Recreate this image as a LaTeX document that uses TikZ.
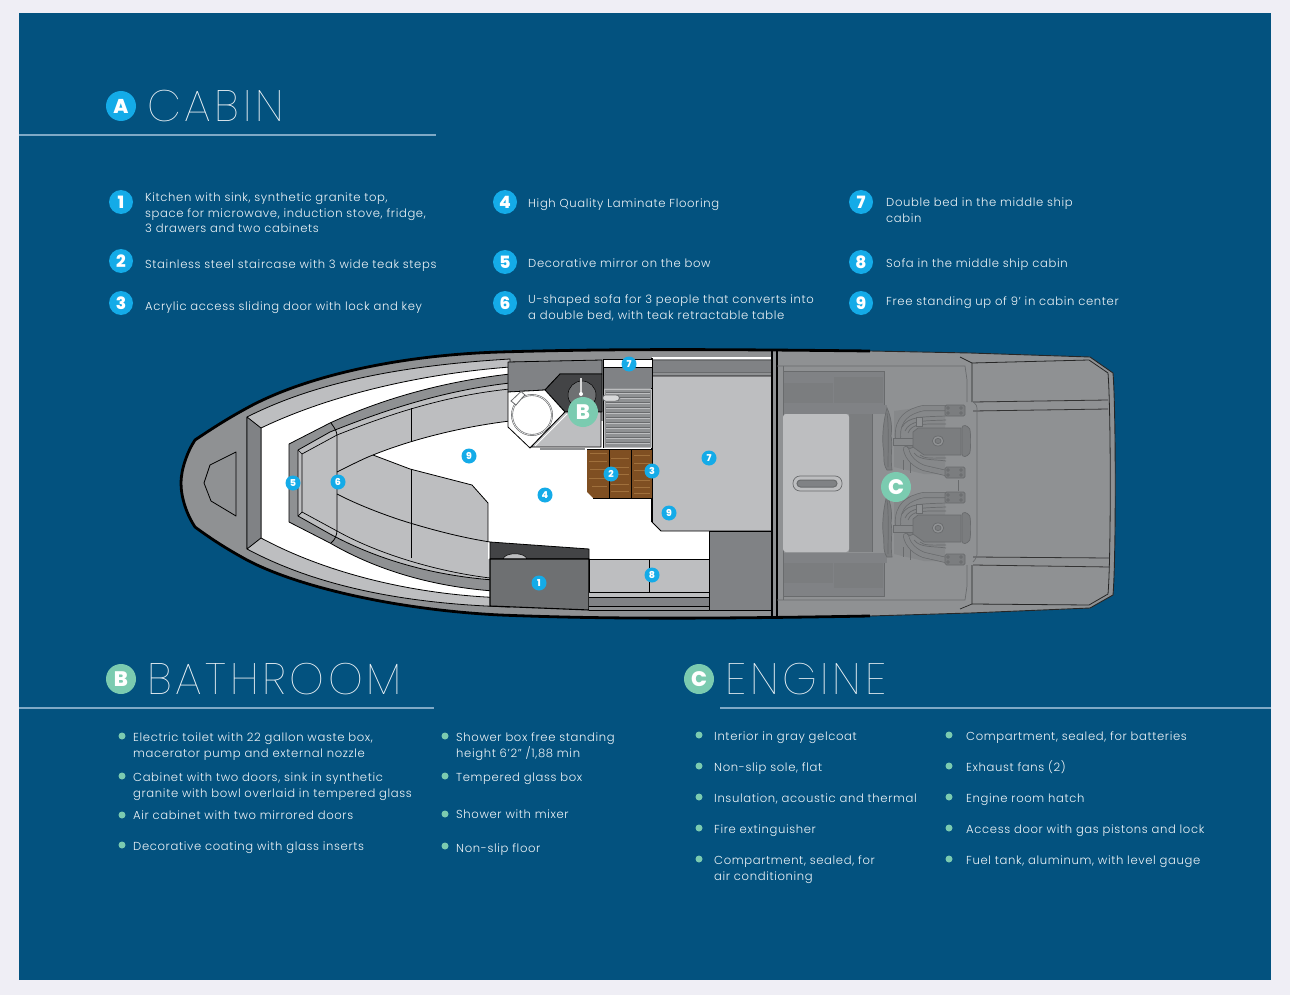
\documentclass[tikz,border=0pt]{standalone}
\usepackage{fontspec}
\setmainfont{Poppins Light}[LetterSpace=5.5]
\newfontfamily\thinf{Poppins Thin}[LetterSpace=8.5]
\newfontfamily\boldf{Poppins}[UprightFont=* ExtraBold]
\definecolor{navy}{HTML}{03527F}
\definecolor{pagebg}{HTML}{EFEEF5}
\definecolor{ruleblue}{HTML}{7FA9C6}
\definecolor{txtc}{HTML}{F0F5F8}
\definecolor{cyanb}{HTML}{14ABE8}
\definecolor{greenb}{HTML}{7BCBB0}
\definecolor{hullg}{HTML}{8F9193}
\definecolor{lightg}{HTML}{BDBEC0}
\definecolor{midg}{HTML}{808285}
\definecolor{darkg}{HTML}{6E7072}
\definecolor{charc}{HTML}{434446}
\definecolor{wood}{HTML}{7F4F22}
\definecolor{woodl}{HTML}{A0703C}
\definecolor{engline}{HTML}{696B6D}
\definecolor{engfill}{HTML}{7B7D7F}
\tikzset{
  hl/.style={draw=black,line width=0.8pt,line join=round},
  thinl/.style={draw=engline,line width=0.7pt},
  pipe/.style={draw=engline,line width=6pt,line cap=round},
  pipei/.style={draw=hullg!50!engfill,line width=4.6pt,line cap=round},
  ttl/.style={anchor=base west,inner sep=0pt,text=txtc,font=\thinf\fontsize{44}{44}\selectfont},
  txt/.style={anchor=north west,inner sep=0pt,yshift=-1.7pt,text=txtc,align=left,font=\fontsize{11.6}{15.4}\selectfont},
  numb/.style={circle,fill=cyanb,text=white,inner sep=0pt,minimum size=24pt,font=\boldf\fontsize{17}{17}\selectfont},
  numbs/.style={circle,fill=cyanb,text=white,inner sep=0pt,minimum size=15pt,font=\boldf\fontsize{9.5}{9.5}\selectfont},
  letb/.style={circle,fill=greenb,text=white,inner sep=0pt,minimum size=30pt,font=\boldf\fontsize{21}{21}\selectfont},
  dotb/.style={circle,fill=greenb,inner sep=0pt,minimum size=7pt},
  hrule/.style={draw=ruleblue,line width=1.3pt}
}
\newcommand{\engineblock}[1]{%
\begin{scope}[shift={#1}]
 % base
 \fill[hullg!55!engfill] (-44,-30) -- (-14,-34) -- (7,-34) -- (7,33) -- (-14,33) -- (-44,26) -- cycle;
 % flywheel
 \draw[thinl,fill=engfill] (-51,-33) .. controls (-46,-22) and (-46,-12) .. (-47,-5) .. controls (-45,5) and (-48,15) .. (-46,29) -- (-51,29) .. controls (-56,22) and (-53,14) .. (-55,5) .. controls (-56,-8) and (-54,-22) .. (-51,-33) -- cycle;
 \draw[thinl] (-51,-28) .. controls (-49,-15) and (-50,10) .. (-50,26);
 % pipes
 \draw[thinl] (-36,-14) .. controls (-30,-25) and (-15,-24) .. (8,-25);
 \draw[thinl] (-33,-10) .. controls (-28,-21) and (-15,-20) .. (8,-21);
 \draw[thinl] (-30,-8) .. controls (-26,-18) and (-15,-17) .. (8,-17);
 \draw[thinl] (-24,12) .. controls (-18,20) and (-5,18) .. (8,20);
 \draw[thinl] (-18,14) .. controls (-14,18) and (-5,17) .. (8,17);
 \draw[thinl] (-28,19) -- (-28,32);
 \draw[thinl] (-35,19) -- (-35,29);
 \draw[pipe] (-40,-4) .. controls (-41,-22) and (-30,-30) .. (-14,-33) -- (8,-33);
 \draw[pipei] (-40,-4) .. controls (-41,-22) and (-30,-30) .. (-14,-33) -- (8,-33);
 \draw[pipe] (-32,8) .. controls (-30,18) and (-22,24) .. (-14,27) -- (8,32);
 \draw[pipei] (-32,8) .. controls (-30,18) and (-22,24) .. (-14,27) -- (8,32);
 \draw[thinl,fill=engfill] (-28,4) circle (3.5);
 % shaft
 \draw[thinl,fill=hullg!60!engfill] (-45,-3) rectangle (-25,4);
 % block
 \draw[thinl,fill=engfill] (-25,-9) -- (-20,-13) -- (23,-13) -- (23,14) -- (-14,14) -- (-25,6) -- cycle;
 \draw[thinl,fill=engfill,rounded corners=3pt] (24,-16) -- (30,-15) .. controls (33,-10) and (33,10) .. (30,15) -- (24,16) -- cycle;
 \draw[thinl,fill=hullg] (0,0) ellipse (5.8 and 5);
 \draw[thinl,fill=engfill] (0,0) ellipse (3 and 2.6);
 \draw[thinl,fill=hullg] (-22,-24) rectangle (-16,-15);
 % mounts
 \draw[thinl,fill=engfill,rounded corners=1.5pt] (7,-36) rectangle (27,-25);
 \draw[thinl,fill=engfill,rounded corners=1.5pt] (7,26) rectangle (27,37);
 \foreach \px in {10,23}{\draw[thinl] (\px,-33) circle (1.4); \draw[thinl] (\px,-28) circle (1.4); \draw[thinl] (\px,29) circle (1.4); \draw[thinl] (\px,34) circle (1.4);}
\end{scope}}
\begin{document}
\begin{tikzpicture}[x=1pt,y=-1pt,line cap=butt]
\useasboundingbox (0,0) rectangle (1290,995);
\fill[pagebg] (0,0) rectangle (1290,995);
\fill[navy] (19,13) rectangle (1271,980);
% ---- headings
\node[circle,fill=cyanb,text=white,inner sep=0pt,minimum size=30pt,font=\boldf\fontsize{20}{20}\selectfont] (hA) at (121,106) {A};
\node[ttl] (tA) at (147,122) {CABIN};
\draw[hrule] (19,135) -- (436,135);
\node[letb] (hB) at (121,679) {B};
\node[ttl] (tB) at (147,694) {BATHROOM};
\draw[hrule] (19,708) -- (434,708);
\node[letb] (hC) at (699,679) {C};
\node[ttl] (tC) at (725,694) {ENGINE};
\draw[hrule] (720,708) -- (1271,708);
% ---- cabin list
\node[numb] (n1) at (121,202) {1};
\node[numb] (n2) at (121,261) {2};
\node[numb] (n3) at (121,303) {3};
\node[numb] (n4) at (505,202) {4};
\node[numb] (n5) at (505,262) {5};
\node[numb] (n6) at (505,303) {6};
\node[numb] (n7) at (861,202) {7};
\node[numb] (n8) at (861,262) {8};
\node[numb] (n9) at (861,303) {9};
\node[txt] (c1) at (145,191) {Kitchen with sink, synthetic granite top,\\space for microwave, induction stove, fridge,\\3 drawers and two cabinets};
\node[txt] (c2) at (145,258) {Stainless steel staircase with 3 wide teak steps};
\node[txt] (c3) at (145,300) {Acrylic access sliding door with lock and key};
\node[txt] (c4) at (528,197) {High Quality Laminate Flooring};
\node[txt] (c5) at (528,257) {Decorative mirror on the bow};
\node[txt] (c6) at (528,293) {U-shaped sofa for 3 people that converts into\\a double bed, with teak retractable table};
\node[txt] (c7) at (886,196) {Double bed in the middle ship\\cabin};
\node[txt] (c8) at (886,257) {Sofa in the middle ship cabin};
\node[txt] (c9) at (886,295) {Free standing up of 9' in cabin center};
% ---- bathroom list
\foreach \nm/\py in {a/736,b/776,c/815,d/845}{\node[dotb] (ba\nm) at (122,\py) {};}
\foreach \nm/\py in {a/736,b/776,c/814,d/846}{\node[dotb] (bb\nm) at (445,\py) {};}
\node[txt] (b1) at (133,731) {Electric toilet with 22 gallon waste box,\\macerator pump and external nozzle};
\node[txt] (b2) at (133,771) {Cabinet with two doors, sink in synthetic\\granite with bowl overlaid in tempered glass};
\node[txt] (b3) at (133,809) {Air cabinet with two mirrored doors};
\node[txt] (b4) at (133,840) {Decorative coating with glass inserts};
\node[txt] (b5) at (456,731) {Shower box free standing\\height 6'2'' /1,88 min};
\node[txt] (b6) at (456,771) {Tempered glass box};
\node[txt] (b7) at (456,808) {Shower with mixer};
\node[txt] (b8) at (456,842) {Non-slip floor};
% ---- engine list
\foreach \nm/\py in {a/735,b/766,c/797,d/828,e/859}{\node[dotb] (ea\nm) at (699,\py) {}; \node[dotb] (eb\nm) at (949,\py) {};}
\node[txt] (e1) at (714,730) {Interior in gray gelcoat};
\node[txt] (e2) at (714,761) {Non-slip sole, flat};
\node[txt] (e3) at (714,792) {Insulation, acoustic and thermal};
\node[txt] (e4) at (714,823) {Fire extinguisher};
\node[txt] (e5) at (714,854) {Compartment, sealed, for\\air conditioning};
\node[txt] (e6) at (966,730) {Compartment, sealed, for batteries};
\node[txt] (e7) at (966,759) {Exhaust fans (2)};
\node[txt] (e8) at (966,792) {Engine room hatch};
\node[txt] (e9) at (966,823) {Access door with gas pistons and lock};
\node[txt] (e10) at (966,854) {Fuel tank, aluminum, with level gauge};
% ---- hull
\fill[hullg] (870,351) .. controls (700,349) and (600,349) .. (500,352) .. controls (400,355) and (305,376) .. (247,408) .. controls (225,420) and (210,430) .. (195,440) .. controls (187,452) and (181,470) .. (181,483) .. controls (181,498) and (187,515) .. (195,527) .. controls (210,538) and (225,548) .. (247,560) .. controls (300,588) and (400,610) .. (500,615) .. controls (600,619) and (700,619) .. (870,616) -- (970,613) -- (1090,608) -- (1113,595) .. controls (1116,560) and (1116,410) .. (1113,373) -- (1090,357) -- (970,353) -- cycle;
\draw[draw=black!85,line width=0.9pt] (870,616) -- (970,613) -- (1090,608) -- (1113,595) .. controls (1116,560) and (1116,410) .. (1113,373) -- (1090,357) -- (970,353) -- (870,351);
% bow hatch
\draw[hl,fill=hullg] (236,452) -- (236,516) -- (211,501) -- (204,483) -- (210,465) -- cycle;
% outer light strip
\draw[hl,fill=lightg] (247,417) .. controls (320,380) and (410,365) .. (510,359) -- (510,607) .. controls (410,604) and (320,588) .. (247,549) -- cycle;
\draw[hl,fill=white] (261,428) .. controls (330,395) and (420,374) .. (510,367) -- (510,598) .. controls (420,596) and (330,575) .. (261,538) -- cycle;
\draw[hl,fill=midg] (247,417) -- (261,428) -- (261,538) -- (247,549) -- cycle;
% coaming ring
\draw[hl,fill=hullg] (289,444) -- (330,423) .. controls (380,400) and (440,382) .. (510,374) -- (510,592) .. controls (440,589) and (380,572) .. (330,543) -- (289,522) -- cycle;
\draw[hl,fill=lightg] (298,450) -- (330,432) .. controls (380,412) and (440,391) .. (510,383) -- (510,581) .. controls (440,578) and (380,561) .. (330,534) -- (298,516) -- cycle;
\draw[draw=black,line width=0.7pt] (302,454) -- (337,435) .. controls (380,418) and (440,396) .. (510,389);
\draw[draw=black,line width=0.7pt] (302,512) -- (337,531) .. controls (380,555) and (440,572) .. (490,578);
\draw[draw=black,line width=0.7pt] (298,450) -- (302,454) -- (302,512) -- (298,516);
% floor
\fill[white] (373,455) .. controls (410,440) and (460,427) .. (510,421) -- (710,421) -- (710,559) -- (488,559) -- (488,503) -- (472,485) -- (410,469) -- cycle;
\draw[hl] (337,472) .. controls (355,463) and (365,458) .. (373,455) .. controls (410,440) and (460,427) .. (510,421);
\draw[hl] (373,455) -- (410,469) -- (472,485) -- (488,503) -- (488,542);
\draw[hl] (337,494) .. controls (360,506) and (390,517) .. (410,523) .. controls (440,532) and (465,538) .. (490,542);
\draw[hl] (331,423) .. controls (336,430) and (337,432) .. (337,437) -- (337,530) .. controls (337,535) and (335,540) .. (331,543);
\draw[hl] (411,408) -- (411,442);
\draw[hl] (411,469) -- (411,558);
% kitchen
\draw[hl,fill=charc] (490,542) -- (589,549) -- (589,559) -- (490,559) -- cycle;
\draw[draw=black,fill=lightg,line width=0.5pt] (503,559) .. controls (505,552) and (525,552) .. (527,559) -- cycle;
\draw[hl,line width=1.1pt,fill=darkg] (490,559) -- (589,559) -- (589,610) -- (490,606) -- cycle;
% sofa 8
\fill[hullg] (589,592) rectangle (709,610);
\fill[lightg] (589,592) rectangle (709,597);
\fill[midg] (589,597) rectangle (709,606);
\draw[draw=black,line width=0.5pt] (589,597) -- (709,597);
\draw[draw=black,line width=0.5pt] (589,606) -- (709,606);
\draw[hl,fill=lightg] (589,559) rectangle (709,592);
\draw[hl] (649,559) -- (649,592);
\draw[hl] (589,610) -- (709,610);
% top strip
\fill[white] (652,357) rectangle (772,359);
\fill[midg] (652,360) rectangle (772,372);
\draw[draw=engline,line width=0.6pt] (652,360) -- (772,360);
\draw[draw=engline,line width=0.6pt] (652,372) -- (772,372);
% bed
\draw[hl,fill=lightg] (652,376) -- (772,376) -- (772,531) -- (661,531) -- (652,522) -- cycle;
\draw[hl,line width=1.2pt] (652,358) -- (652,522);
% box
\draw[hl,fill=midg] (709,531) rectangle (772,610);
% bathroom
\draw[hl,fill=midg] (508,362) -- (602,360) -- (602,374) -- (560,374) -- (545,390) -- (508,392) -- cycle;
\draw[hl,fill=charc] (560,374) -- (602,374) -- (602,412) -- (565,412) -- (545,390) -- cycle;
\draw[hl,fill=white] (508,392) -- (545,390) -- (565,412) -- (530,448) -- (508,427) -- cycle;
\draw[draw=engline,line width=1.8pt] (532,415) ellipse (20 and 20);
\draw[draw=white,line width=0.5pt] (532,415) ellipse (20 and 20);
\draw[draw=engline,fill=white,line width=0.8pt] (511,401) -- (521,391.5) -- (525,395) -- (522,398) -- (516,405) -- cycle;
\draw[draw=black,fill=lightg,line width=0.8pt] (565,412) -- (601,412) -- (601,447) -- (531,447) -- cycle;
\draw[draw=white,line width=0.8pt] (567,414) -- (535,446);
\draw[draw=hullg,line width=1.6pt] (540,449) -- (585,449);
\draw[draw=black,line width=0.5pt,fill=darkg] (582,395) circle (14);
\draw[draw=white!85!black,line width=1.6pt] (581,378) -- (581,393);
\fill[white] (581,394) circle (2);
% shower column
\fill[white] (603,359) rectangle (652,367);
\fill[midg] (603,367) rectangle (652,388);
\draw[hl] (603,359) -- (652,359);
\draw[hl] (603,367) -- (652,367);
\draw[hl] (603,359) -- (603,448);
\fill[hullg] (604,389) rectangle (651,447);
\foreach \sy in {392,397,...,444}{\draw[draw=engline,line width=0.8pt] (606,\sy) -- (650,\sy);\draw[draw=lightg,line width=1.2pt] (606,\sy+1.8) -- (650,\sy+1.8);}
\draw[draw=lightg,line width=1pt] (604,389) rectangle (651,447);
\draw[draw=engline,fill=lightg!60!white,line width=0.5pt,rounded corners=2.5pt] (603,395) -- (618,395) -- (620,398) -- (618,401) -- (603,401) -- cycle;
% stairs
\fill[wood] (587,449) -- (652,449) -- (652,498) -- (593,498) -- (587,492) -- cycle;
\foreach \sy/\sa/\sb in {453/590/607,458/611/629,463/634/650,469/590/607,474/611/629,480/634/650,486/592/607,491/611/629,493/634/650,455/634/650,484/611/629,461/589/607,478/589/607,467/611/629,470/634/650,487/634/650}{\draw[draw=woodl,line width=0.8pt] (\sa,\sy) -- (\sb,\sy);}
\draw[hl] (609,449) -- (609,498);
\draw[hl] (631,449) -- (631,498);
\draw[hl] (587,449) -- (652,449);
\draw[hl] (652,449) -- (652,498);
\draw[draw=black,line width=0.5pt] (652,498) -- (593,498);
% bulkhead
\fill[hullg] (772,352) rectangle (777,617);
\draw[hl,line width=1.2pt] (772,351) -- (772,617);
\draw[hl,line width=1.2pt] (777,351) -- (777,617);
% engine room
\draw[thinl] (777,366) -- (965,366) -- (967,380) -- (967,402);
\draw[thinl] (777,600) -- (965,600) -- (967,586) -- (967,565);
\draw[draw=black!85,line width=0.7pt] (960,357) -- (972,363) -- (972,402);
\draw[draw=black!85,line width=0.7pt] (960,609) -- (972,604) -- (972,565);
\draw[draw=black!85,line width=0.8pt] (972,363) -- (1089,360) -- (1108,373) .. controls (1111,410) and (1111,560) .. (1108,594) -- (1089,605) -- (972,604);
\draw[draw=black!80,line width=0.8pt] (973,402) -- (1108,400);
\draw[draw=black!80,line width=0.8pt] (973,411) -- (1108,409);
\draw[draw=black!80,line width=0.8pt] (973,557) -- (1110,558);
\draw[draw=black!80,line width=0.8pt] (973,565) -- (1110,567);
\draw[thinl,rounded corners=3pt] (973,402) -- (977,405) -- (977,557) -- (973,562);
% lockers
\fill[midg] (783,371) rectangle (884,405);
\fill[engfill] (784,383) rectangle (833,403);
\fill[engfill] (834,377) rectangle (883,403);
\fill[midg] (783,405) rectangle (887,414);
\fill[midg] (783,553) rectangle (887,563);
\fill[midg] (783,563) rectangle (884,596);
\fill[engfill] (784,563) rectangle (833,583);
\fill[engfill] (834,563) rectangle (883,588);
\draw[thinl] (783,371) -- (884,371) -- (884,405);
\draw[thinl] (783,596) -- (884,596) -- (884,563);
\draw[thinl] (783,366) -- (783,600);
\fill[engfill] (849,414) rectangle (872,552);
\draw[thinl] (872,414) -- (872,552);
\fill[lightg,rounded corners=3pt] (783,414) rectangle (849,552);
\draw[draw=engline,fill=lightg,line width=0.7pt,rounded corners=7pt] (793,476) rectangle (842,491);
\draw[draw=engline,fill=midg,line width=1pt,rounded corners=3.5pt] (797,480) rectangle (837,487);
% engines
\engineblock{(938,441)}
\engineblock{(938,528)}
\draw[thinl] (958,480) -- (958,491);
% boat badges
\node[numbs] (p1) at (539,583) {1};
\node[numbs] (p2) at (611,474) {2};
\node[numbs] (p3) at (652,471) {3};
\node[numbs] (p4) at (545,495) {4};
\node[numbs] (p5) at (293,483) {5};
\node[numbs] (p6) at (338,482) {6};
\node[numbs] (p7a) at (629,364) {7};
\node[numbs] (p7b) at (709,458) {7};
\node[numbs] (p8) at (652,575) {8};
\node[numbs] (p9a) at (469,456) {9};
\node[numbs] (p9b) at (669,513) {9};
\node[letb] (pB) at (583,412) {B};
\node[letb] (pC) at (896,487) {C};
% hull outline
\draw[draw=black,line width=2.8pt,line join=round] (870,351) .. controls (700,349) and (600,349) .. (500,352) .. controls (400,355) and (305,376) .. (247,408) .. controls (225,420) and (210,430) .. (195,440) .. controls (187,452) and (181,470) .. (181,483) .. controls (181,498) and (187,515) .. (195,527) .. controls (210,538) and (225,548) .. (247,560) .. controls (300,588) and (400,610) .. (500,615) .. controls (600,619) and (700,619) .. (870,616);
\end{tikzpicture}
\end{document}
